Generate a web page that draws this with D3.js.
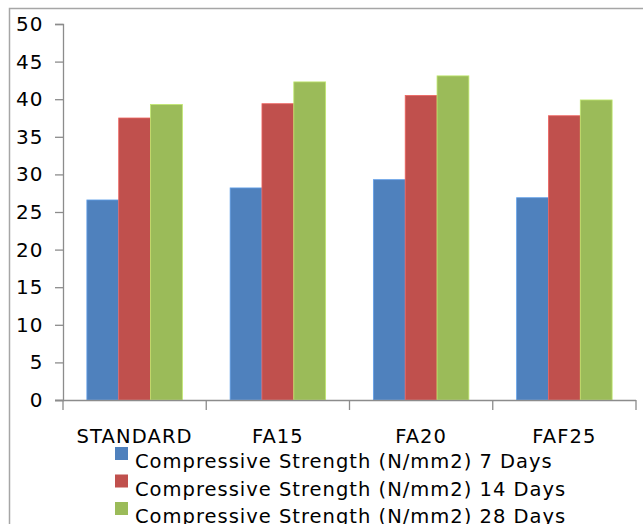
<!DOCTYPE html>
<html><head><meta charset="utf-8">
<script src="https://cdn.jsdelivr.net/npm/d3@7"></script>
<style>body{margin:0;background:#fff}svg{display:block}</style>
</head><body>
<svg id="c" width="643" height="524"></svg>
<script>
const categories = ["STANDARD", "FA15", "FA20", "FAF25"];
const seriesNames = ["Compressive Strength (N/mm2) 7 Days", "Compressive Strength (N/mm2) 14 Days", "Compressive Strength (N/mm2) 28 Days"];
const days7  = [26.6, 28.2, 29.3, 26.9];
const days14 = [37.5, 39.4, 40.5, 37.8];
const days28 = [39.3, 42.3, 43.1, 39.9];
const yTicks = [0, 5, 10, 15, 20, 25, 30, 35, 40, 45, 50];
const colors = ["#4f81bd", "#c0504d", "#9bbb59"];

const values = [days7, days14, days28];
const svg = d3.select("#c");
const font = "DejaVu Sans";

// outer chart border
svg.append("rect").attr("x", 9.5).attr("y", 8.5).attr("width", 700).attr("height", 600)
  .attr("fill", "none").attr("stroke", "#a6a6a6").attr("stroke-width", 1.5);

const x0 = d3.scaleBand().domain(categories).range([63, 636]).paddingInner(0).paddingOuter(0);
const x1 = d3.scaleBand().domain(d3.range(3)).range([0, x0.bandwidth()]).paddingInner(0).paddingOuter(0.75);
const y = d3.scaleLinear().domain([0, 50]).range([400, 24]);

// bars
const g = svg.append("g");
categories.forEach((c, i) => {
  values.forEach((s, j) => {
    g.append("rect")
      .attr("x", x0(c) + x1(j))
      .attr("y", y(s[i]))
      .attr("width", x1.bandwidth())
      .attr("height", y(0) - y(s[i]))
      .attr("fill", colors[j])
      .attr("stroke", d3.color(colors[j]).brighter(0.6))
      .attr("stroke-width", 0.8);
  });
});

// y axis
const yAxis = svg.append("g").attr("transform", "translate(63,0)")
  .call(d3.axisLeft(y).tickValues(yTicks).tickSize(8).tickPadding(11.5));
yAxis.select(".domain").attr("stroke", "#8c8c8c").attr("stroke-width", 1.3);
yAxis.selectAll(".tick line").attr("stroke", "#8c8c8c").attr("stroke-width", 1.3);
yAxis.selectAll(".tick text").attr("font-family", font).attr("font-size", 20)
  .attr("letter-spacing", 1).attr("fill", "#000");

// x axis
const xAxis = svg.append("g").attr("transform", "translate(0,400)")
  .call(d3.axisBottom(x0).tickSize(0).tickPadding(29));
xAxis.select(".domain").attr("d", "M55,0.5H636").attr("stroke", "#8c8c8c").attr("stroke-width", 1.3);
xAxis.selectAll(".tick text").attr("font-family", font).attr("font-size", 19.5)
  .attr("letter-spacing", 1.1).attr("fill", "#000");
const bounds = categories.map(c => x0(c)).concat([x0(categories[3]) + x0.bandwidth()]);
xAxis.selectAll(".sep").data(bounds).enter().append("line")
  .attr("x1", d => d).attr("x2", d => d).attr("y1", 0).attr("y2", 10)
  .attr("stroke", "#8c8c8c").attr("stroke-width", 1.3);

// legend
const leg = svg.append("g");
seriesNames.forEach((n, j) => {
  const yy = 447 + j * 27.5;
  leg.append("rect").attr("x", 115).attr("y", yy).attr("width", 13).attr("height", 13).attr("fill", colors[j]);
  leg.append("text").attr("x", 135).attr("y", yy + 21).text(n)
    .attr("font-family", font).attr("font-size", 19.5).attr("letter-spacing", 1.0).attr("fill", "#000");
});
</script>
</body></html>
